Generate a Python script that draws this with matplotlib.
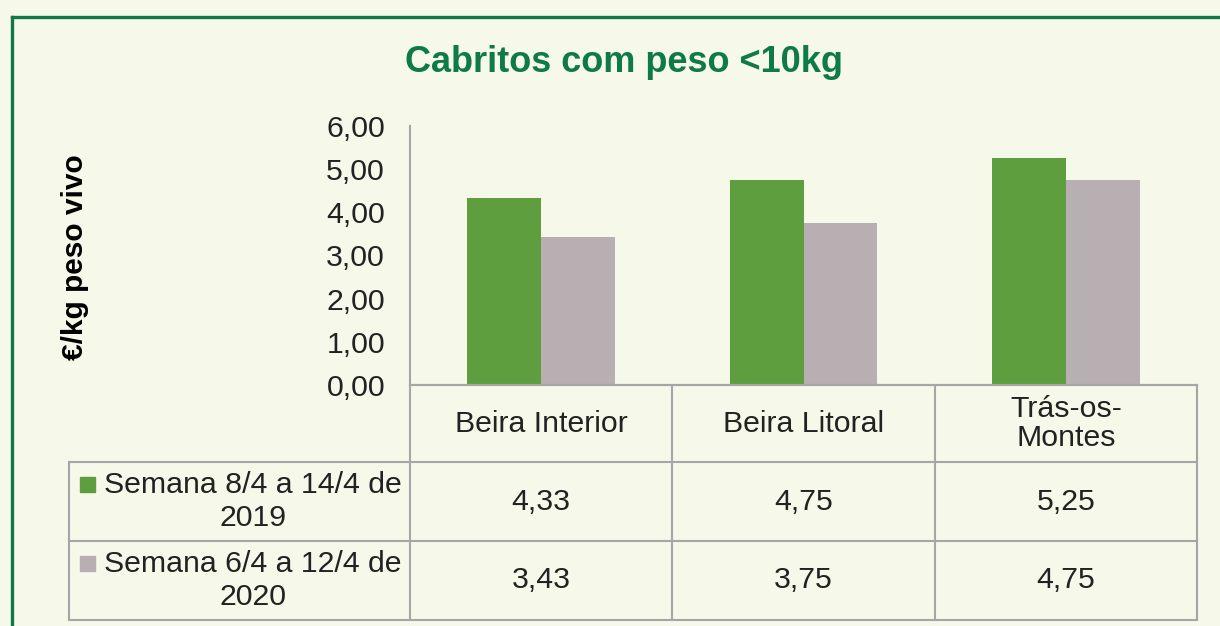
import matplotlib
matplotlib.use('Agg')
import matplotlib.pyplot as plt
from matplotlib.lines import Line2D
from matplotlib.patches import Rectangle
from matplotlib.ticker import FuncFormatter
import numpy as np

"""
Data
"""
regions = ['Beira Interior', 'Beira Litoral', 'Trás-os-\nMontes']
series_names = ['Semana 8/4 a 14/4 de\n2019', 'Semana 6/4 a 12/4 de\n2020']
week2019 = [4.33, 4.75, 5.25]
week2020 = [3.43, 3.75, 4.75]
yticks = [0, 1, 2, 3, 4, 5, 6]

"""
Style
"""
bg = '#F6F8EA'
green = '#5E9E3F'
grey = '#B8AFB3'
dkgreen = '#0E7A47'
linec = '#A6A6A6'
txtc = '#222222'
fs = 21.8
plt.rcParams['font.family'] = ['Liberation Sans', 'DejaVu Sans']

W, H = 1220, 626
def fx(px):
    return px / W
def fy(py):
    return 1 - py / H

fig = plt.figure(figsize=(12.2, 6.26), dpi=100, facecolor=bg)
ax = fig.add_axes([fx(410), fy(385), fx(1197) - fx(410), fy(126) - fy(385)])
ax.set_facecolor(bg)

x = np.arange(len(regions))
bw = 0.282
ax.bar(x - bw / 2, week2019, width=bw, color=green, edgecolor='none')
ax.bar(x + bw / 2, week2020, width=bw, color=grey, edgecolor='none')
ax.set_xlim(-0.5, len(regions) - 0.5)
ax.set_ylim(0, 6)
ax.set_yticks(yticks)
ax.yaxis.set_major_formatter(FuncFormatter(lambda v, p: ('%.2f' % v).replace('.', ',')))
ax.tick_params(axis='y', length=0, pad=18, labelsize=fs, labelcolor=txtc)
ax.set_xticks([])
for s in ['top', 'right']:
    ax.spines[s].set_visible(False)
for s in ['left', 'bottom']:
    ax.spines[s].set_color(linec)
    ax.spines[s].set_linewidth(1.5)

fig.canvas.draw()

"""
Data table below the chart
"""
rows_y = [385, 462, 541, 620]
col_px = [ax.transData.transform((v, 0))[0] for v in np.arange(len(regions) + 1) - 0.5]
left_px = 69

def hline(x0, x1, y):
    fig.add_artist(Line2D([fx(x0), fx(x1)], [fy(y), fy(y)], color=linec, lw=1.5))
def vline(xp, y0, y1):
    fig.add_artist(Line2D([fx(xp), fx(xp)], [fy(y0), fy(y1)], color=linec, lw=1.5))

hline(col_px[0], col_px[-1], rows_y[0])
for y in rows_y[1:]:
    hline(left_px, col_px[-1], y)
for c in col_px:
    vline(c, rows_y[0], rows_y[-1])
vline(left_px, rows_y[1], rows_y[-1])

for i, r in enumerate(regions):
    cx = (col_px[i] + col_px[i + 1]) / 2
    fig.text(fx(cx), fy((rows_y[0] + rows_y[1]) / 2), r, ha='center', va='center',
             fontsize=fs, color=txtc, linespacing=1.08)

for j, (name, vals, col) in enumerate(zip(series_names, [week2019, week2020], [green, grey])):
    yc = (rows_y[j + 1] + rows_y[j + 2]) / 2
    fig.text(fx(253), fy(yc), name, ha='center', va='center', fontsize=fs,
             color=txtc, multialignment='center', linespacing=1.2)
    fig.add_artist(Rectangle((fx(80), fy(yc - 10)), fx(15), 15 / H, color=col,
                             transform=fig.transFigure))
    for i, v in enumerate(vals):
        cx = (col_px[i] + col_px[i + 1]) / 2
        fig.text(fx(cx), fy(yc), ('%.2f' % v).replace('.', ','), ha='center', va='center',
                 fontsize=fs, color=txtc)

"""
Titles and frame
"""
fig.text(fx(624), fy(62), 'Cabritos com peso <10kg', ha='center', va='center',
         fontsize=26, fontweight='bold', color=dkgreen)
fig.text(fx(75), fy(257), '€/kg peso vivo', ha='center', va='center', rotation=90,
         fontsize=21.5, fontweight='bold', color='black')

fig.add_artist(Line2D([fx(12.5), 1], [fy(16.5), fy(16.5)], color=dkgreen, lw=2.4))
fig.add_artist(Line2D([fx(12.5), fx(12.5)], [fy(16.5), 0], color=dkgreen, lw=2.4))

fig.savefig('out.png', dpi=100, facecolor=bg)
